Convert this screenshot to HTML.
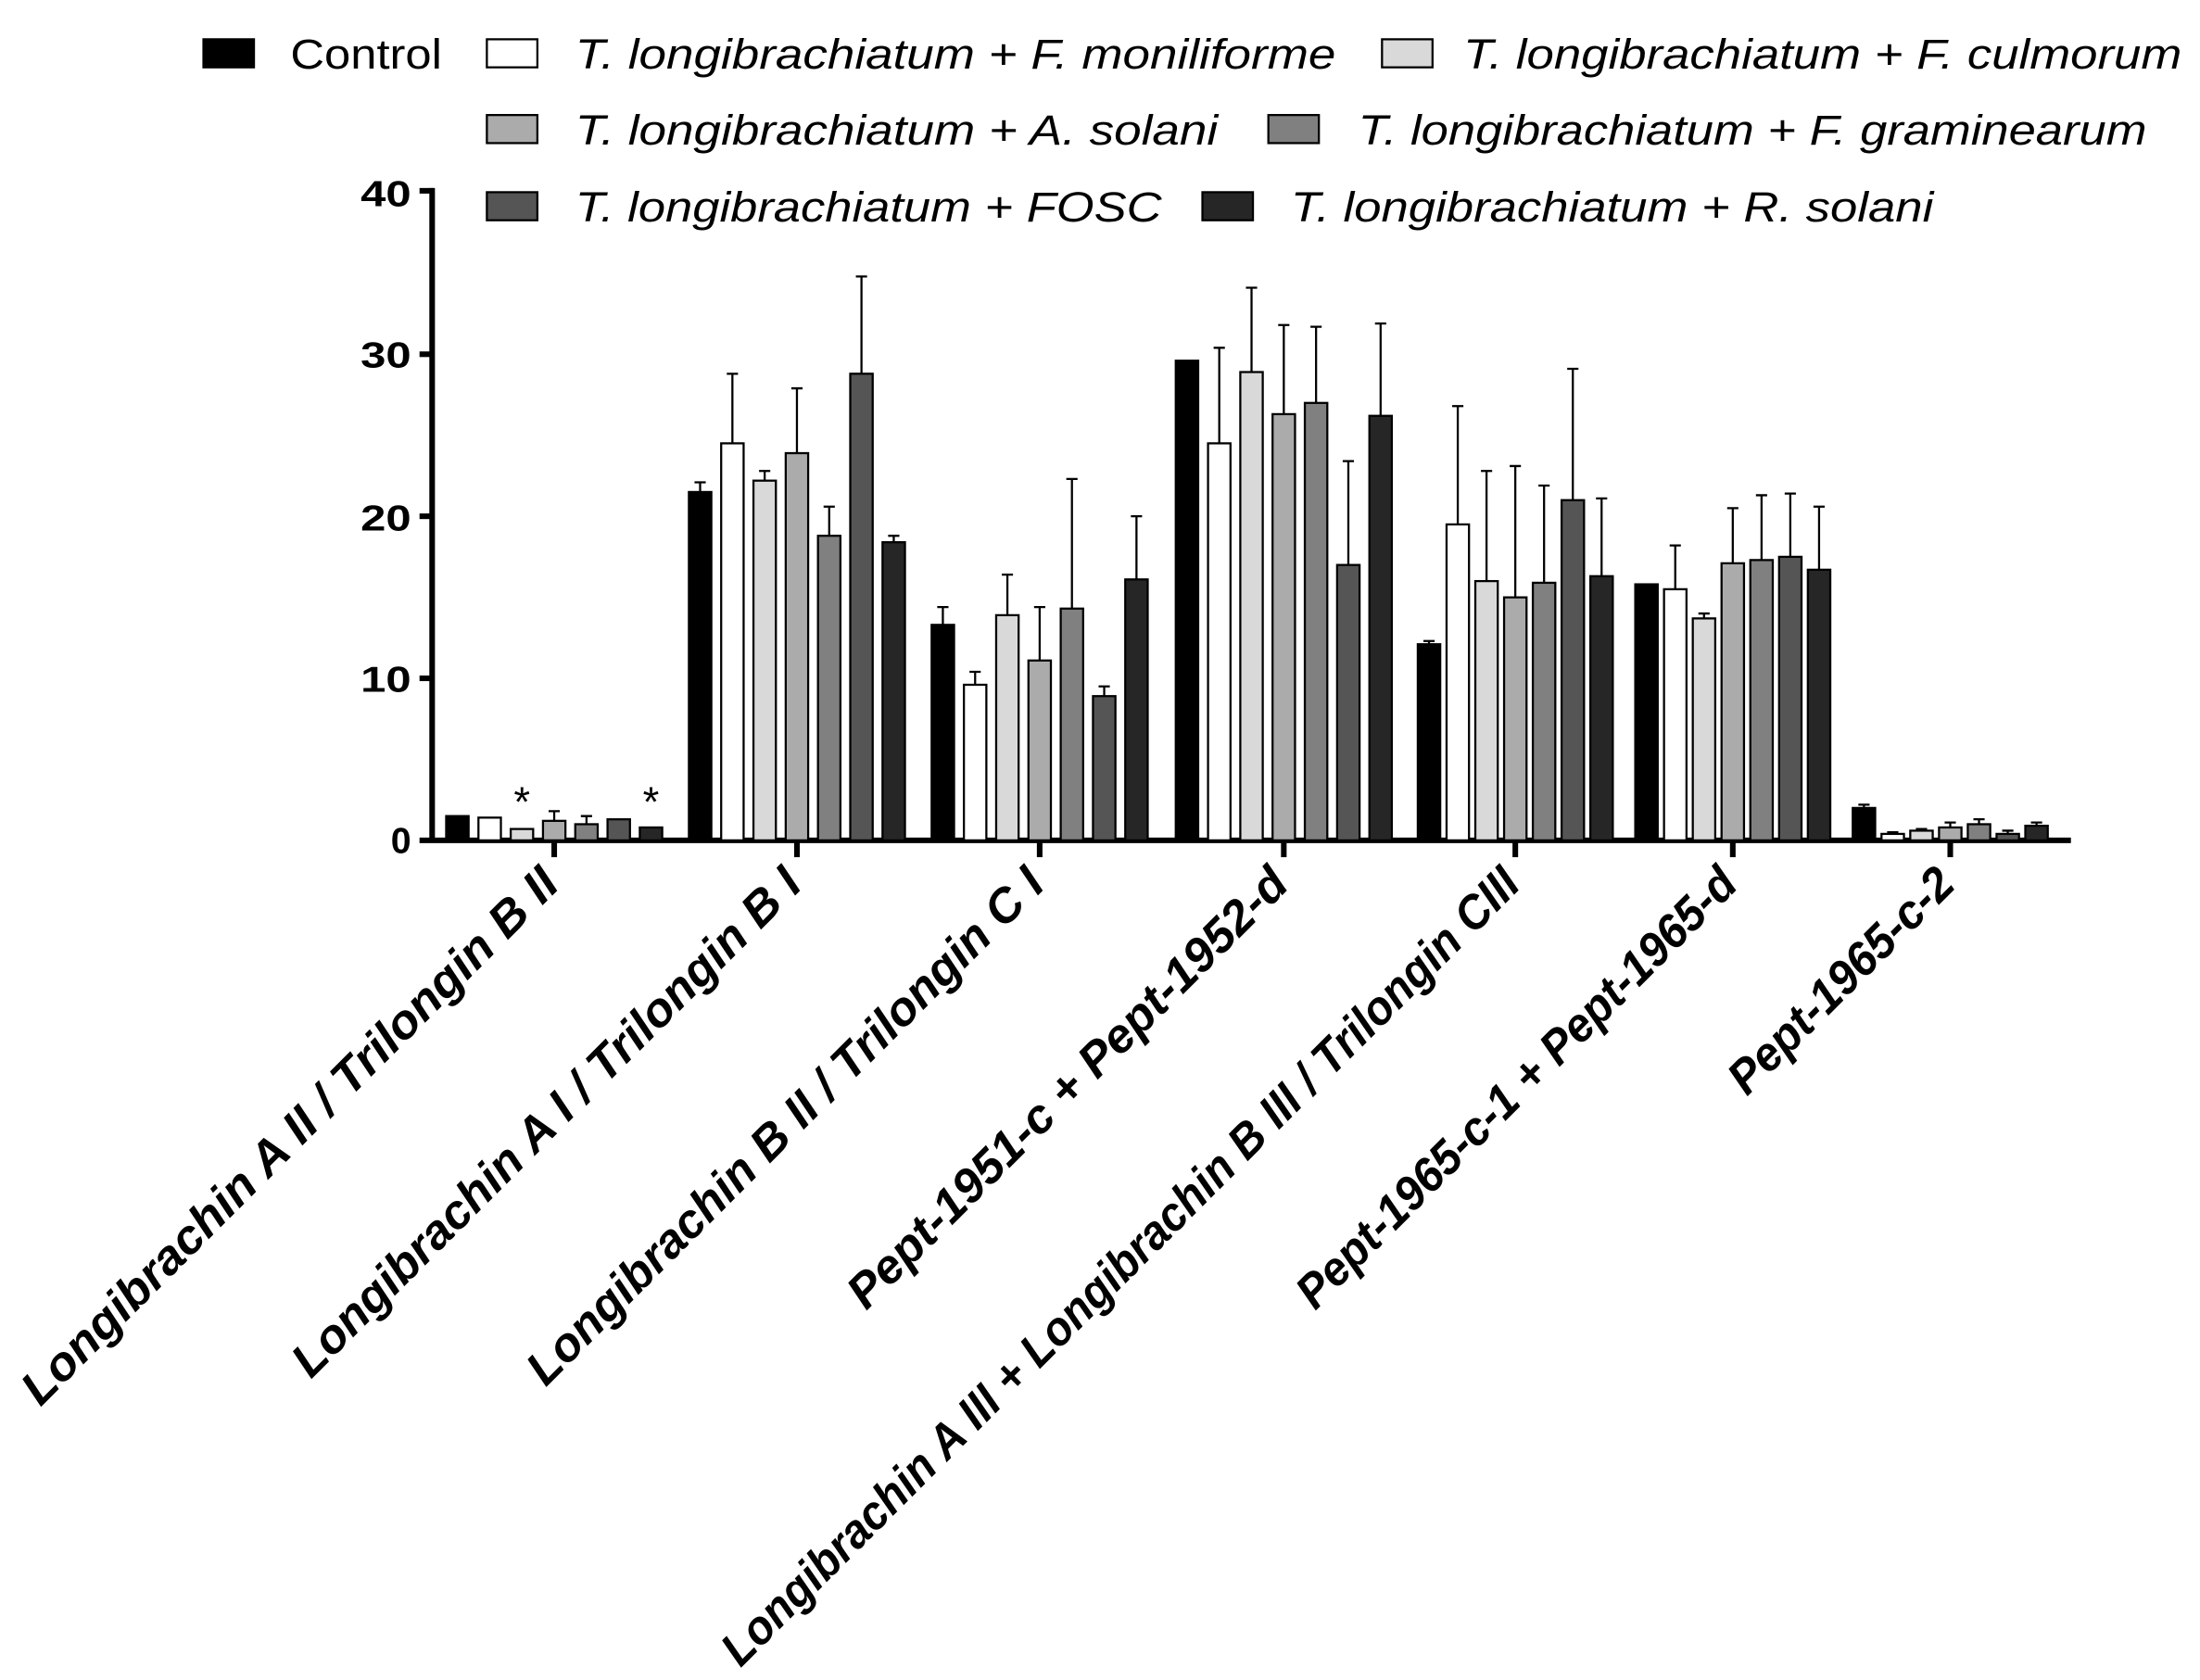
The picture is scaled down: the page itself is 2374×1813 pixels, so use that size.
<!DOCTYPE html>
<html><head><meta charset="utf-8"><style>html,body{margin:0;padding:0;background:#fff}svg{display:block}</style></head>
<body>
<svg width="2374" height="1813" viewBox="0 0 1568 1197.5" preserveAspectRatio="none" xmlns="http://www.w3.org/2000/svg" font-family="'Liberation Sans', sans-serif">
<rect width="1568" height="1198" fill="#fff"/>
<g font-size="30" font-style="italic">
<rect x="145" y="28" width="36" height="20" fill="#000" stroke="#000" stroke-width="1.5"/>
<text x="207" y="49" font-style="normal" textLength="108" lengthAdjust="spacingAndGlyphs">Control</text>
<rect x="347" y="28" width="36" height="20" fill="#fff" stroke="#000" stroke-width="1.5"/>
<text x="410" y="49" textLength="542" lengthAdjust="spacingAndGlyphs">T. longibrachiatum + F. moniliforme</text>
<rect x="985" y="28" width="36" height="20" fill="#d9d9d9" stroke="#000" stroke-width="1.5"/>
<text x="1043" y="49" textLength="512" lengthAdjust="spacingAndGlyphs">T. longibrachiatum + F. culmorum</text>
<rect x="347" y="82" width="36" height="20" fill="#ababab" stroke="#000" stroke-width="1.5"/>
<text x="410" y="103" textLength="458" lengthAdjust="spacingAndGlyphs">T. longibrachiatum + A. solani</text>
<rect x="904" y="82" width="36" height="20" fill="#808080" stroke="#000" stroke-width="1.5"/>
<text x="968" y="103" textLength="562" lengthAdjust="spacingAndGlyphs">T. longibrachiatum + F. graminearum</text>
<rect x="347" y="137" width="36" height="20" fill="#555" stroke="#000" stroke-width="1.5"/>
<text x="410" y="158" textLength="418" lengthAdjust="spacingAndGlyphs">T. longibrachiatum + FOSC</text>
<rect x="857" y="137" width="36" height="20" fill="#262626" stroke="#000" stroke-width="1.5"/>
<text x="920" y="158" textLength="458" lengthAdjust="spacingAndGlyphs">T. longibrachiatum + R. solani</text>
</g>
<g font-size="26" font-weight="bold" text-anchor="end">
<text x="293" y="147" textLength="36" lengthAdjust="spacingAndGlyphs">40</text>
<text x="293" y="262" textLength="36" lengthAdjust="spacingAndGlyphs">30</text>
<text x="293" y="378" textLength="36" lengthAdjust="spacingAndGlyphs">20</text>
<text x="293" y="493" textLength="36" lengthAdjust="spacingAndGlyphs">10</text>
<text x="293" y="608">0</text>
</g>
<g stroke="#000" stroke-width="4">
<line x1="308" y1="134" x2="308" y2="600"/>
<line x1="299" y1="136" x2="309" y2="136"/><line x1="299" y1="252.5" x2="309" y2="252.5"/><line x1="299" y1="368" x2="309" y2="368"/><line x1="299" y1="483.5" x2="309" y2="483.5"/>
<line x1="299" y1="599" x2="1476" y2="599"/>
<line x1="395" y1="599" x2="395" y2="611"/><line x1="568" y1="599" x2="568" y2="611"/><line x1="741" y1="599" x2="741" y2="611"/><line x1="915" y1="599" x2="915" y2="611"/><line x1="1080" y1="599" x2="1080" y2="611"/><line x1="1235" y1="599" x2="1235" y2="611"/><line x1="1390" y1="599" x2="1390" y2="611"/>
</g>
<g stroke="#000" stroke-width="1.5" fill="none">
<path d="M395,578.2V585.1M391,578.2H399M418,581.7V587.5M414,581.7H422"/>
<path d="M499,343.8V350.7M495,343.8H503M522,266.4V316M518,266.4H526M545,335.7V342.6M541,335.7H549M568,276.8V323M564,276.8H572M591,361.1V381.9M587,361.1H595M614,197.1V266.4M610,197.1H618M637,381.9V386.5M633,381.9H641"/>
<path d="M672,432.7V445.4M668,432.7H676M695,478.9V488.1M691,478.9H699M718,409.6V438.5M714,409.6H722M741,432.7V470.8M737,432.7H745M764,341.4V433.8M760,341.4H768M787,489.3V496.2M783,489.3H791M810,368V413M806,368H814"/>
<path d="M869,247.9V316M865,247.9H873M892,205.1V265.2M888,205.1H896M915,231.7V295.2M911,231.7H919M938,232.9V287.2M934,232.9H942M961,328.7V402.7M957,328.7H965M984,230.6V296.4M980,230.6H988"/>
<path d="M1018.5,456.9V459.2M1014.5,456.9H1022.5M1039,289.5V373.8M1035,289.5H1043M1059.5,335.7V414.2M1055.5,335.7H1063.5M1080,332.2V425.8M1076,332.2H1084M1100.5,346.1V415.4M1096.5,346.1H1104.5M1121,262.9V356.5M1117,262.9H1125M1141.5,355.3V410.7M1137.5,355.3H1145.5"/>
<path d="M1194,388.8V420M1190,388.8H1198M1214.5,437.3V440.8M1210.5,437.3H1218.5M1235,362.2V401.5M1231,362.2H1239M1255.5,353V399.2M1251.5,353H1259.5M1276,351.8V396.9M1272,351.8H1280M1296.5,361.1V406.1M1292.5,361.1H1300.5"/>
<path d="M1328.5,573.6V575.9M1324.5,573.6H1332.5M1349,593.2V594.4M1345,593.2H1353M1369.5,590.9V592.1M1365.5,590.9H1373.5M1390,586.3V589.8M1386,586.3H1394M1410.5,584V587.5M1406.5,584H1414.5M1431,592.1V594.4M1427,592.1H1435M1451.5,586.3V588.6M1447.5,586.3H1455.5"/>
</g>
<g stroke="#000" stroke-width="1.5">
<rect x="318" y="581.7" width="16" height="17.3" fill="#000"/><rect x="341" y="582.8" width="16" height="16.2" fill="#fff"/><rect x="364" y="590.9" width="16" height="8.1" fill="#d9d9d9"/><rect x="387" y="585.1" width="16" height="13.9" fill="#ababab"/><rect x="410" y="587.5" width="16" height="11.5" fill="#808080"/><rect x="433" y="584" width="16" height="15" fill="#555"/><rect x="456" y="589.8" width="16" height="9.2" fill="#262626"/>
<rect x="491" y="350.7" width="16" height="248.3" fill="#000"/><rect x="514" y="316" width="16" height="283" fill="#fff"/><rect x="537" y="342.6" width="16" height="256.4" fill="#d9d9d9"/><rect x="560" y="323" width="16" height="276" fill="#ababab"/><rect x="583" y="381.9" width="16" height="217.1" fill="#808080"/><rect x="606" y="266.4" width="16" height="332.6" fill="#555"/><rect x="629" y="386.5" width="16" height="212.5" fill="#262626"/>
<rect x="664" y="445.4" width="16" height="153.6" fill="#000"/><rect x="687" y="488.1" width="16" height="110.9" fill="#fff"/><rect x="710" y="438.5" width="16" height="160.5" fill="#d9d9d9"/><rect x="733" y="470.8" width="16" height="128.2" fill="#ababab"/><rect x="756" y="433.8" width="16" height="165.2" fill="#808080"/><rect x="779" y="496.2" width="16" height="102.8" fill="#555"/><rect x="802" y="413" width="16" height="186" fill="#262626"/>
<rect x="838" y="257.1" width="16" height="341.9" fill="#000"/><rect x="861" y="316" width="16" height="283" fill="#fff"/><rect x="884" y="265.2" width="16" height="333.8" fill="#d9d9d9"/><rect x="907" y="295.2" width="16" height="303.8" fill="#ababab"/><rect x="930" y="287.2" width="16" height="311.8" fill="#808080"/><rect x="953" y="402.7" width="16" height="196.3" fill="#555"/><rect x="976" y="296.4" width="16" height="302.6" fill="#262626"/>
<rect x="1010.5" y="459.2" width="16" height="139.8" fill="#000"/><rect x="1031" y="373.8" width="16" height="225.2" fill="#fff"/><rect x="1051.5" y="414.2" width="16" height="184.8" fill="#d9d9d9"/><rect x="1072" y="425.8" width="16" height="173.2" fill="#ababab"/><rect x="1092.5" y="415.4" width="16" height="183.6" fill="#808080"/><rect x="1113" y="356.5" width="16" height="242.5" fill="#555"/><rect x="1133.5" y="410.7" width="16" height="188.3" fill="#262626"/>
<rect x="1165.5" y="416.5" width="16" height="182.5" fill="#000"/><rect x="1186" y="420" width="16" height="179" fill="#fff"/><rect x="1206.5" y="440.8" width="16" height="158.2" fill="#d9d9d9"/><rect x="1227" y="401.5" width="16" height="197.5" fill="#ababab"/><rect x="1247.5" y="399.2" width="16" height="199.8" fill="#808080"/><rect x="1268" y="396.9" width="16" height="202.1" fill="#555"/><rect x="1288.5" y="406.1" width="16" height="192.9" fill="#262626"/>
<rect x="1320.5" y="575.9" width="16" height="23.1" fill="#000"/><rect x="1341" y="594.4" width="16" height="4.6" fill="#fff"/><rect x="1361.5" y="592.1" width="16" height="6.9" fill="#d9d9d9"/><rect x="1382" y="589.8" width="16" height="9.2" fill="#ababab"/><rect x="1402.5" y="587.5" width="16" height="11.5" fill="#808080"/><rect x="1423" y="594.4" width="16" height="4.6" fill="#555"/><rect x="1443.5" y="588.6" width="16" height="10.4" fill="#262626"/>
</g>
<g font-size="30" text-anchor="middle"><text x="372" y="582">*</text><text x="464" y="582">*</text></g>
<g font-size="34" font-weight="bold" font-style="italic" text-anchor="end">
<text transform="translate(400,632) rotate(-45)" textLength="525" lengthAdjust="spacingAndGlyphs">Longibrachin A II / Trilongin B II</text>
<text transform="translate(573,632) rotate(-45)" textLength="497" lengthAdjust="spacingAndGlyphs">Longibrachin A I / Trilongin B I</text>
<text transform="translate(746,632) rotate(-45)" textLength="505" lengthAdjust="spacingAndGlyphs">Longibrachin B II / Trilongin C I</text>
<text transform="translate(920,632) rotate(-45)" textLength="428" lengthAdjust="spacingAndGlyphs">Pept-1951-c + Pept-1952-d</text>
<text transform="translate(1085,632) rotate(-45)" textLength="788" lengthAdjust="spacingAndGlyphs">Longibrachin A III + Longibrachin B III / Trilongin CIII</text>
<text transform="translate(1240,632) rotate(-45)" textLength="428" lengthAdjust="spacingAndGlyphs">Pept-1965-c-1 + Pept-1965-d</text>
<text transform="translate(1395,632) rotate(-45)" textLength="212" lengthAdjust="spacingAndGlyphs">Pept-1965-c-2</text>
</g>
</svg>
</body></html>
